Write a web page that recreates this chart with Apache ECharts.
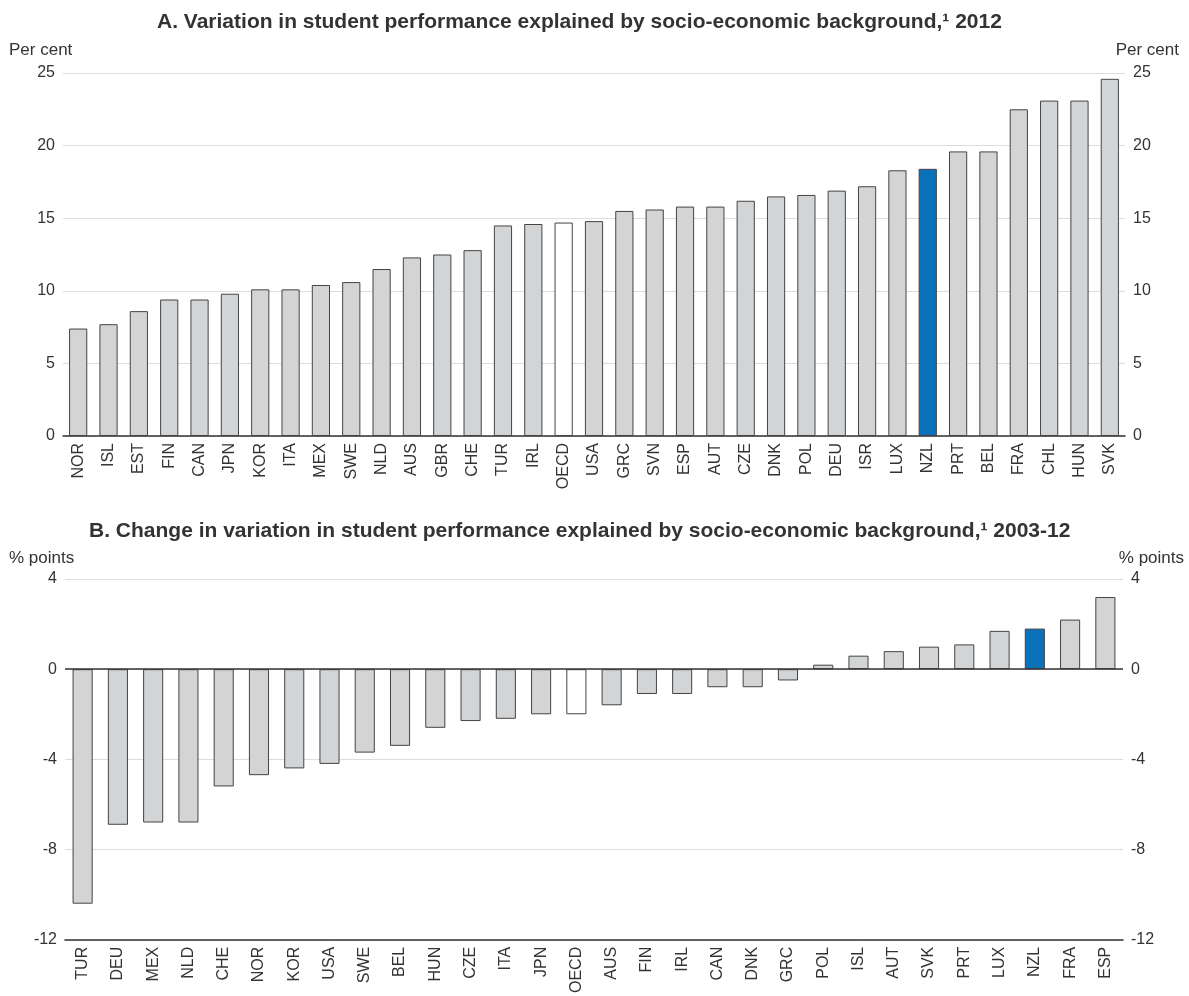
<!DOCTYPE html>
<html>
<head>
<meta charset="utf-8">
<script src="https://cdn.jsdelivr.net/npm/echarts@6/dist/echarts.min.js"></script>
<style>
  html, body { margin: 0; padding: 0; background: #fff; }
  #chart { width: 1189px; height: 996px; }
</style>
</head>
<body>
<div id="chart"></div>
<script>
  // panel A: 2012 levels
  const catsA = ['NOR', 'ISL', 'EST', 'FIN', 'CAN', 'JPN', 'KOR', 'ITA', 'MEX', 'SWE', 'NLD', 'AUS', 'GBR', 'CHE', 'TUR', 'IRL', 'OECD', 'USA',
    'GRC', 'SVN', 'ESP', 'AUT', 'CZE', 'DNK', 'POL', 'DEU', 'ISR', 'LUX', 'NZL', 'PRT', 'BEL', 'FRA', 'CHL', 'HUN', 'SVK'];
  const valsA = [7.4, 7.7, 8.6, 9.4, 9.4, 9.8, 10.1, 10.1, 10.4, 10.6, 11.5, 12.3, 12.5, 12.8, 14.5, 14.6, 14.7, 14.8,
    15.5, 15.6, 15.8, 15.8, 16.2, 16.5, 16.6, 16.9, 17.2, 18.3, 18.4, 19.6, 19.6, 22.5, 23.1, 23.1, 24.6];
  const ticksA = [0, 5, 10, 15, 20, 25];

  // panel B: change 2003-12
  const catsB = ['TUR', 'DEU', 'MEX', 'NLD', 'CHE', 'NOR', 'KOR', 'USA', 'SWE', 'BEL', 'HUN', 'CZE', 'ITA', 'JPN', 'OECD',
    'AUS', 'FIN', 'IRL', 'CAN', 'DNK', 'GRC', 'POL', 'ISL', 'AUT', 'SVK', 'PRT', 'LUX', 'NZL', 'FRA', 'ESP'];
  const valsB = [-10.4, -6.9, -6.8, -6.8, -5.2, -4.7, -4.4, -4.2, -3.7, -3.4, -2.6, -2.3, -2.2, -2.0, -2.0,
    -1.6, -1.1, -1.1, -0.8, -0.8, -0.5, 0.2, 0.6, 0.8, 1.0, 1.1, 1.7, 1.8, 2.2, 3.2];
  const ticksB = [-12, -8, -4, 0, 4];

  const FONT = '"Liberation Sans", Arial, sans-serif';
  const TXT = '#333333';
  const GREY = '#d3d4d6';
  const BLUE = '#0b72b9';
  const EDGE = '#444444';

  function barColor(p) {
    if (p.name === 'NZL') return BLUE;
    if (p.name === 'OECD') return '#ffffff';
    return GREY;
  }

  function yAxes(ticks, gridIndex) {
    const base = {
      type: 'value',
      gridIndex: gridIndex,
      min: ticks[0],
      max: ticks[ticks.length - 1],
      interval: ticks[1] - ticks[0],
      axisLine: { show: false },
      axisTick: { show: false },
      axisLabel: { color: TXT, fontSize: 16, fontFamily: FONT, margin: 8 }
    };
    return [
      Object.assign({}, base, {
        position: 'left',
        splitLine: { show: true, lineStyle: { color: '#dddddd', width: 1 } }
      }),
      Object.assign({}, base, {
        position: 'right',
        splitLine: { show: false }
      })
    ];
  }

  function xAxis(cats, gridIndex) {
    return {
      type: 'category',
      gridIndex: gridIndex,
      data: cats,
      axisLine: { onZero: false, lineStyle: { color: '#333333', width: 1.5 } },
      axisTick: { show: false },
      axisLabel: { rotate: 90, color: TXT, fontSize: 16, fontFamily: FONT, margin: 7, interval: 0 }
    };
  }

  const subStyle = { fontSize: 17, fontWeight: 'normal', color: TXT, fontFamily: FONT };
  const headStyle = { fontSize: 21, fontWeight: 'bold', color: TXT, fontFamily: FONT };

  const myChart = echarts.init(document.getElementById('chart'));
  const option = {
    backgroundColor: '#ffffff',
    animation: false,
    title: [
      { text: 'A. Variation in student performance explained by socio-economic background,\u00b9 2012', left: 152, top: 7, textStyle: headStyle },
      { text: 'Per cent', left: 4, top: 37, textStyle: subStyle },
      { text: 'Per cent', right: 5, top: 37, textStyle: subStyle },
      { text: 'B. Change in variation in student performance explained by socio-economic background,\u00b9 2003-12', left: 84, top: 516, textStyle: headStyle },
      { text: '% points', left: 4, top: 545, textStyle: subStyle },
      { text: '% points', right: 0, top: 545, textStyle: subStyle }
    ],
    grid: [
      { left: 63, right: 64, top: 73, bottom: 560 },
      { left: 65, right: 66, top: 579, bottom: 54 }
    ],
    xAxis: [xAxis(catsA, 0), xAxis(catsB, 1)],
    yAxis: yAxes(ticksA, 0).concat(yAxes(ticksB, 1)),
    series: [
      {
        name: 'A',
        type: 'bar',
        xAxisIndex: 0,
        yAxisIndex: 0,
        barWidth: '60%',
        data: valsA,
        itemStyle: { color: barColor, borderColor: EDGE, borderWidth: 1 }
      },
      {
        name: 'B',
        type: 'bar',
        xAxisIndex: 1,
        yAxisIndex: 2,
        barWidth: '57%',
        data: valsB,
        itemStyle: { color: barColor, borderColor: EDGE, borderWidth: 1 },
        markLine: {
          silent: true,
          symbol: 'none',
          label: { show: false },
          lineStyle: { color: '#333333', width: 1.5, type: 'solid' },
          data: [{ yAxis: 0 }]
        }
      }
    ]
  };
  option && myChart.setOption(option);
</script>
</body>
</html>
